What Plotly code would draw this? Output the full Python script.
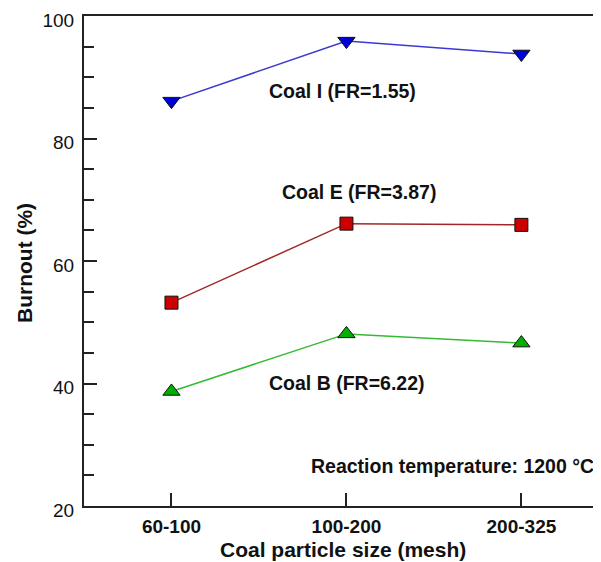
import plotly.graph_objects as go

categories = ["60-100", "100-200", "200-325"]
coal_i = [86.1, 95.9, 93.8]
coal_e = [53.2, 66.1, 65.9]
coal_b = [38.7, 48.1, 46.6]

labels = ["Coal I (FR=1.55)", "Coal E (FR=3.87)", "Coal B (FR=6.22)",
          "Reaction temperature: 1200 °C"]
label_x = [0.977, 1.074, 1.006, 1.606]
label_y = [87.8, 71.3, 40.1, 26.5]

xi = list(range(len(categories)))

fig = go.Figure()
fig.add_trace(go.Scatter(x=xi, y=coal_i, mode="lines+markers",
    line=dict(color="#3a3ad0", width=1.5),
    marker=dict(symbol="triangle-down", size=15, color="#0000d8",
                line=dict(color="#101010", width=1))))
fig.add_trace(go.Scatter(x=xi, y=coal_e, mode="lines+markers",
    line=dict(color="#a02828", width=1.5),
    marker=dict(symbol="square", size=13, color="#cc0000",
                line=dict(color="#101010", width=1))))
fig.add_trace(go.Scatter(x=xi, y=coal_b, mode="lines+markers",
    line=dict(color="#33bb33", width=1.5),
    marker=dict(symbol="triangle-up", size=15, color="#00b000",
                line=dict(color="#101010", width=1))))

for t, x, y in zip(labels, label_x, label_y):
    fig.add_annotation(x=x, y=y, xref="x", yref="y", text="<b>" + t + "</b>",
                       showarrow=False,
                       font=dict(family="Arial", size=19.5, color="#111"),
                       xanchor="center", yanchor="middle")

# axis titles
fig.add_annotation(x=0.501, y=-0.088, xref="paper", yref="paper",
                   text="<b>Coal particle size (mesh)</b>", showarrow=False,
                   font=dict(family="Arial", size=21, color="#111"),
                   xanchor="center", yanchor="middle")
fig.add_annotation(x=-0.114, y=0.496, xref="paper", yref="paper",
                   text="<b>Burnout (%)</b>", showarrow=False, textangle=-90,
                   font=dict(family="Arial", size=21, color="#111"),
                   xanchor="center", yanchor="middle")

# the page body has an 8px margin, so the figure is shifted by 8px
fig.update_layout(
    width=593, height=554,
    margin=dict(l=76, r=0, t=8, b=56, autoexpand=False),
    plot_bgcolor="white", paper_bgcolor="white",
    showlegend=False,
    font=dict(family="Arial", color="#111"),
)
fig.update_xaxes(
    range=[-0.5, 2.455], tickvals=xi, ticktext=["<b>" + c + "</b>" for c in categories],
    tickfont=dict(size=19),
    ticks="inside", ticklen=13, tickwidth=2, tickcolor="#222",
    showline=True, linecolor="#222", linewidth=2, mirror=True,
    showgrid=False, zeroline=False, automargin=False,
    ticklabelstandoff=2, ticklabeloverflow="allow",
)
fig.update_yaxes(
    range=[20, 100], tickvals=[20, 40, 60, 80, 100],
    tickfont=dict(size=19),
    ticks="inside", ticklen=13, tickwidth=2, tickcolor="#222",
    minor=dict(dtick=5, ticks="inside", ticklen=10, tickwidth=2, tickcolor="#222"),
    showline=True, linecolor="#222", linewidth=2, mirror=False,
    showgrid=False, zeroline=False, automargin=False,
    ticklabelstandoff=4, ticklabeloverflow="allow", ticklabelshift=4,
)
fig.write_html("out.html")
